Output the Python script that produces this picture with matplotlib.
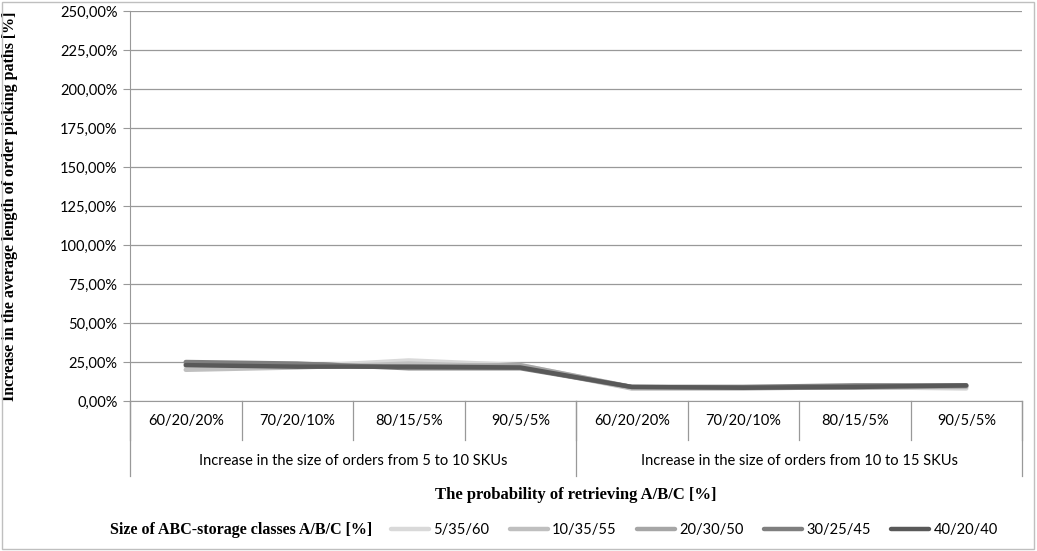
import numpy as np
import matplotlib.pyplot as plt
from matplotlib.patches import Rectangle
from matplotlib.ticker import FuncFormatter

categories = ['60/20/20%', '70/20/10%', '80/15/5%', '90/5/5%',
              '60/20/20%', '70/20/10%', '80/15/5%', '90/5/5%']
groups = ['Increase in the size of orders from 5 to 10 SKUs',
          'Increase in the size of orders from 10 to 15 SKUs']
series_names = ['5/35/60', '10/35/55', '20/30/50', '30/25/45', '40/20/40']
s_5_35_60 = [22.0, 22.0, 26.0, 23.0, 9.0, 9.0, 9.0, 8.0]
s_10_35_55 = [20.0, 21.5, 24.0, 22.0, 8.0, 8.0, 9.0, 9.0]
s_20_30_50 = [24.0, 23.0, 22.0, 23.0, 9.0, 8.5, 8.5, 9.5]
s_30_25_45 = [25.0, 24.0, 21.0, 21.0, 9.0, 9.0, 10.0, 10.0]
s_40_20_40 = [23.0, 22.0, 22.0, 21.5, 9.0, 8.5, 9.0, 10.0]
series_colors = ['#d9d9d9', '#bfbfbf', '#a6a6a6', '#7f7f7f', '#595959']

tick_font = 'Lato'
title_font = 'Liberation Serif'

fig = plt.figure(figsize=(10.37, 5.51), dpi=100)
ax = fig.add_axes([130 / 1037, 1 - 401 / 551, 892 / 1037, 390 / 551])

x = np.arange(len(categories))
for vals, name, col in zip([s_5_35_60, s_10_35_55, s_20_30_50, s_30_25_45, s_40_20_40],
                           series_names, series_colors):
    ax.plot(x, vals, color=col, lw=3.2, label=name, solid_capstyle='round')

ax.set_xlim(-0.5, len(categories) - 0.5)
ax.set_ylim(0, 250)
ax.set_yticks(np.arange(0, 251, 25))
ax.yaxis.set_major_formatter(FuncFormatter(lambda v, p: f'{v:.2f}%'.replace('.', ',')))
ax.grid(axis='y', color='#999999', lw=0.9)
ax.set_axisbelow(True)
for side in ['top', 'right']:
    ax.spines[side].set_visible(False)
ax.spines['left'].set_color('#999999')
ax.spines['bottom'].set_color('#999999')
ax.tick_params(axis='y', length=5, color='#999999', labelsize=10.5, pad=4)
for lbl in ax.get_yticklabels():
    lbl.set_family(tick_font)
ax.set_xticks([])

# category axis (two levels)
tr = ax.get_xaxis_transform()
px = 1 / 390  # one pixel in axes-height units
for i, c in enumerate(categories):
    ax.text(i, -20 * px, c, transform=tr, ha='center', va='center',
            fontsize=10.5, family=tick_font)
for b in np.arange(-0.5, len(categories), 1.0):
    ax.plot([b, b], [0, -39 * px], transform=tr, color='#999999', lw=0.9, clip_on=False)
n_per = len(categories) // len(groups)
for g, name in enumerate(groups):
    ax.text(g * n_per + (n_per - 1) / 2, -60 * px, name, transform=tr,
            ha='center', va='center', fontsize=10.5, family=tick_font)
for b in [-0.5 + g * n_per for g in range(len(groups) + 1)]:
    ax.plot([b, b], [0, -75 * px], transform=tr, color='#999999', lw=0.9, clip_on=False)

ax.set_ylabel('Increase in the average length of order picking paths [%]',
              family=title_font, fontweight='bold', fontsize=11.5)
ax.yaxis.set_label_coords(-112 / 892, 0.5)

fig.text(576 / 1037, 1 - 495 / 551, 'The probability of retrieving A/B/C [%]',
         ha='center', va='center', family=title_font, fontweight='bold', fontsize=12)
fig.text(372 / 1037, 1 - 530 / 551, 'Size of ABC-storage classes A/B/C [%]',
         ha='right', va='center', family=title_font, fontweight='bold', fontsize=11.5)

leg = fig.legend(loc='center left', bbox_to_anchor=(378 / 1037, 1 - 530 / 551), ncol=5,
                 frameon=False, handlelength=2.6, handletextpad=0.3, columnspacing=1.4,
                 prop={'family': tick_font, 'size': 10.5})

fig.patches.append(Rectangle((2 / 1037, 2 / 551), 1032 / 1037, 547 / 551,
                             transform=fig.transFigure, fill=False,
                             edgecolor='#bfbfbf', lw=1))

fig.savefig('out.png', dpi=100)
